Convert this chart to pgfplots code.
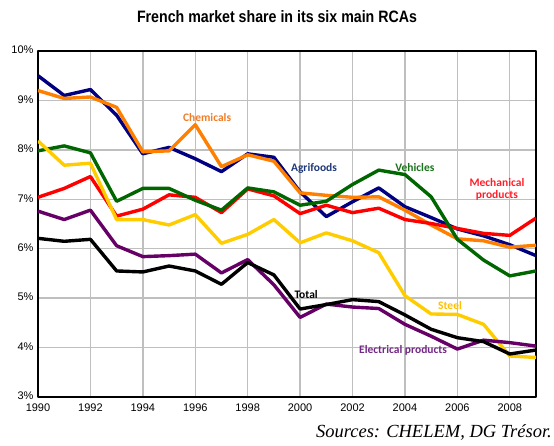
\documentclass[border=0pt]{standalone}
\usepackage{pgfplots}
\pgfplotsset{compat=1.18}
\usepackage{fontspec}
\setmainfont{Liberation Sans}
\newfontfamily\titlefont[FakeStretch=0.86]{Liberation Sans}
\newfontfamily\lblfont{Carlito}
\newfontfamily\srcfont{Liberation Serif}

\definecolor{cagri}{RGB}{0,0,128}
\definecolor{cchem}{RGB}{255,128,0}
\definecolor{cveh}{RGB}{0,102,0}
\definecolor{cmech}{RGB}{255,0,0}
\definecolor{csteel}{RGB}{255,204,0}
\definecolor{celec}{RGB}{102,0,102}
\definecolor{lagri}{RGB}{31,56,120}
\definecolor{lchem}{RGB}{240,125,40}
\definecolor{lveh}{RGB}{25,115,25}
\definecolor{lmech}{RGB}{255,30,40}
\definecolor{lsteel}{RGB}{255,192,0}
\definecolor{lelec}{RGB}{112,40,130}

\begin{document}
\begin{tikzpicture}[x=1pt,y=1pt]
\useasboundingbox (0,0) rectangle (554,445);
\node[font=\titlefont\bfseries\fontsize{16.5}{18}\selectfont] at (277,428) {French market share in its six main RCAs};
\begin{axis}[
    at={(38pt,48pt)}, anchor=south west,
    scale only axis,
    width=498pt, height=346pt,
    xmin=1990, xmax=2009,
    ymin=3, ymax=10,
    xtick={1990,1992,...,2008},
    ytick={3,4,...,10},
    x tick label style={/pgf/number format/1000 sep={}},
    yticklabel={\pgfmathprintnumber{\tick}\%},
    tick label style={font=\fontsize{11}{12}\selectfont},
    /pgf/number format/assume math mode=true,
    xticklabel style={yshift=-3pt},
    yticklabel style={xshift=-1pt, yshift=1pt},
    major tick length=0pt,
    grid=major,
    grid style={draw=black!25, line width=1.4pt},
    axis line style={line width=2.2pt},
    line join=round,
    every axis plot/.append style={line width=3.4pt, no markers},
    clip=true,
  ]
  % Agrifoods
  \addplot[cagri] coordinates {(1990,9.50)(1991,9.10)(1992,9.22)(1993,8.70)(1994,7.92)(1995,8.05)(1996,7.82)(1997,7.56)(1998,7.92)(1999,7.85)(2000,7.15)(2001,6.65)(2002,6.95)(2003,7.23)(2004,6.85)(2005,6.63)(2006,6.40)(2007,6.26)(2008,6.08)(2009,5.86)};
  % Chemicals
  \addplot[cchem] coordinates {(1990,9.20)(1991,9.04)(1992,9.07)(1993,8.86)(1994,7.96)(1995,7.98)(1996,8.51)(1997,7.66)(1998,7.90)(1999,7.77)(2000,7.13)(2001,7.08)(2002,7.04)(2003,7.05)(2004,6.78)(2005,6.48)(2006,6.20)(2007,6.16)(2008,6.03)(2009,6.07)};
  % Mechanical products
  \addplot[cmech] coordinates {(1990,7.04)(1991,7.22)(1992,7.46)(1993,6.66)(1994,6.80)(1995,7.09)(1996,7.04)(1997,6.73)(1998,7.21)(1999,7.07)(2000,6.71)(2001,6.88)(2002,6.73)(2003,6.82)(2004,6.59)(2005,6.51)(2006,6.41)(2007,6.31)(2008,6.27)(2009,6.62)};
  % Vehicles
  \addplot[cveh] coordinates {(1990,7.98)(1991,8.08)(1992,7.94)(1993,6.96)(1994,7.22)(1995,7.22)(1996,6.98)(1997,6.78)(1998,7.23)(1999,7.15)(2000,6.88)(2001,6.96)(2002,7.30)(2003,7.59)(2004,7.50)(2005,7.05)(2006,6.19)(2007,5.77)(2008,5.45)(2009,5.55)};
  % Steel
  \addplot[csteel] coordinates {(1990,8.18)(1991,7.69)(1992,7.73)(1993,6.59)(1994,6.59)(1995,6.48)(1996,6.69)(1997,6.11)(1998,6.29)(1999,6.59)(2000,6.12)(2001,6.32)(2002,6.16)(2003,5.92)(2004,5.05)(2005,4.68)(2006,4.67)(2007,4.47)(2008,3.83)(2009,3.80)};
  % Electrical products
  \addplot[celec] coordinates {(1990,6.76)(1991,6.59)(1992,6.78)(1993,6.06)(1994,5.84)(1995,5.86)(1996,5.89)(1997,5.51)(1998,5.78)(1999,5.27)(2000,4.61)(2001,4.88)(2002,4.82)(2003,4.79)(2004,4.47)(2005,4.23)(2006,3.97)(2007,4.15)(2008,4.10)(2009,4.03)};
  % Total
  \addplot[black] coordinates {(1990,6.21)(1991,6.15)(1992,6.19)(1993,5.55)(1994,5.53)(1995,5.65)(1996,5.55)(1997,5.28)(1998,5.72)(1999,5.47)(2000,4.78)(2001,4.87)(2002,4.97)(2003,4.93)(2004,4.66)(2005,4.37)(2006,4.20)(2007,4.12)(2008,3.87)(2009,3.95)};

  \begin{scope}[every node/.style={font=\lblfont\bfseries\fontsize{11.5}{13}\selectfont}]
  \node[text=lchem] at (axis cs:1996.45,8.66) {Chemicals};
  \node[text=lagri] at (axis cs:2000.53,7.63) {Agrifoods};
  \node[text=lveh] at (axis cs:2004.38,7.65) {Vehicles};
  \node[text=lmech, align=center, inner sep=0pt] at (axis cs:2007.51,7.2) {Mechanical\\[-1pt]products};
  \node[text=black] at (axis cs:2000.23,5.08) {Total};
  \node[text=lsteel] at (axis cs:2005.72,4.86) {Steel};
  \node[text=lelec] at (axis cs:2003.93,3.95) {Electrical products};
  \end{scope}
\end{axis}
\node[anchor=base east, font=\srcfont\itshape\fontsize{18.5}{20}\selectfont, inner sep=0pt] at (552,8) {Sources: CHELEM, DG Trésor.};
\end{tikzpicture}
\end{document}
